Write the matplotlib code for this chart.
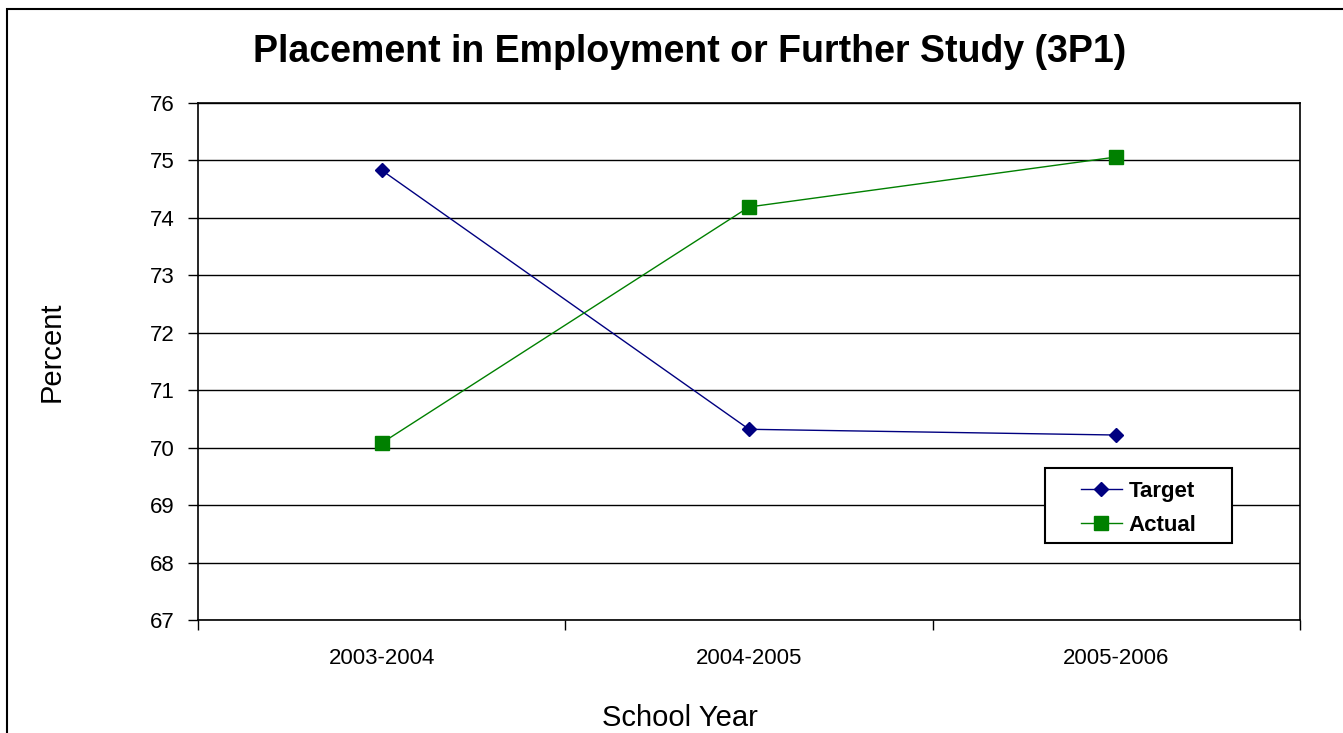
import matplotlib.pyplot as plt
from matplotlib.patches import Rectangle

# data
years = ['2003-2004', '2004-2005', '2005-2006']
target = [74.83, 70.32, 70.22]
actual = [70.08, 74.19, 75.06]

plt.rcParams['font.family'] = ['Liberation Sans', 'DejaVu Sans']

W, H = 1343, 733
fig = plt.figure(figsize=(W / 100, H / 100), dpi=100)
ax = fig.add_axes([198 / W, 1 - 620 / H, (1300 - 198) / W, (620 - 103) / H])

x = range(len(years))
ax.plot(x, target, color='#000080', marker='D', markersize=7, linewidth=1, label='Target', zorder=3)
ax.plot(x, actual, color='#008000', marker='s', markersize=10, linewidth=1, label='Actual', zorder=3)

ax.set_xlim(-0.5, 2.5)
ax.set_ylim(67, 76)
ax.set_yticks(range(67, 77))
ax.yaxis.grid(True, color='black', linewidth=1)
ax.set_axisbelow(True)

ax.set_xticks(list(x))
ax.set_xticklabels(years)
ax.tick_params(axis='x', length=0, labelsize=16, pad=20)
ax.set_xticks([-0.5, 0.5, 1.5, 2.5], minor=True)
ax.tick_params(axis='x', which='minor', length=7, width=1, direction='out')
ax.tick_params(axis='y', length=7, width=1, labelsize=16, pad=10)

for s in ax.spines.values():
    s.set_linewidth(1.2)
    s.set_color('black')

# titles and axis labels
fig.text(690 / W, 1 - 52 / H, 'Placement in Employment or Further Study (3P1)',
         ha='center', va='center', fontsize=27, fontweight='bold')
fig.text(680 / W, 1 - 718 / H, 'School Year', ha='center', va='center', fontsize=21)
fig.text(52 / W, 1 - 352 / H, 'Percent', ha='center', va='center', fontsize=21, rotation=90)

# legend box (white, black border) with legend entries inside
ax.add_patch(Rectangle(((1045 - 198) / 1102, (620 - 543) / 517), 187 / 1102, 75 / 517,
                       transform=ax.transAxes, facecolor='white', edgecolor='black',
                       linewidth=1.5, zorder=5, clip_on=False))
leg = ax.legend(loc='center', bbox_to_anchor=((1138.5 - 198) / 1102, (620 - 508.5) / 517),
                frameon=False, prop={'weight': 'bold', 'size': 16},
                handlelength=1.85, handletextpad=0.3, labelspacing=0.6, borderpad=0)
leg.set_zorder(6)

# outer chart border
fig.patches.append(Rectangle((7 / W, -0.1), 1.5, 1 - 9 / H + 0.1, transform=fig.transFigure,
                             fill=False, edgecolor='black', linewidth=1.5))

fig.savefig('out.png', dpi=100)
